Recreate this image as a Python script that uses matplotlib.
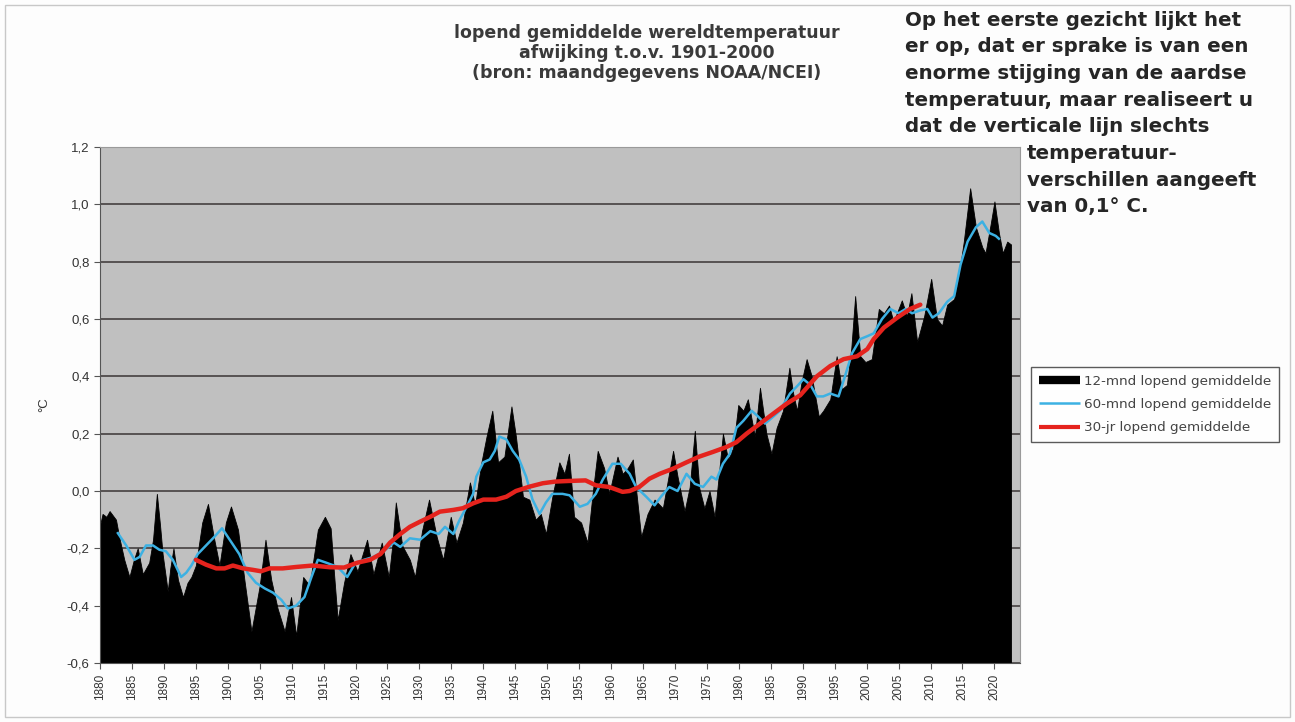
import matplotlib.pyplot as plt
from matplotlib.lines import Line2D
from matplotlib.patches import Rectangle

black_years = [1880.0, 1880.4, 1881.0, 1881.5, 1882.0, 1882.5, 1883.0, 1883.8, 1884.6, 1885.3,
               1885.9, 1886.7, 1887.2, 1887.7, 1888.3, 1888.9, 1889.4, 1889.8, 1890.6, 1891.0,
               1891.5, 1892.2, 1893.0, 1893.7, 1894.3, 1895.0, 1896.0, 1896.9, 1897.8, 1898.7,
               1899.7, 1900.5, 1901.6, 1902.6, 1903.7, 1905.0, 1905.9, 1906.8, 1907.8, 1908.9,
               1909.9, 1910.7, 1911.8, 1912.8, 1914.1, 1915.2, 1916.1, 1916.6, 1917.2, 1918.2,
               1919.2, 1920.3, 1921.8, 1922.8, 1924.1, 1925.2, 1925.8, 1926.3, 1927.3, 1928.5,
               1929.3, 1930.4, 1931.5, 1932.7, 1933.7, 1934.9, 1935.8, 1936.8, 1937.9, 1938.7,
               1939.7, 1940.5, 1941.4, 1942.3, 1943.3, 1944.4, 1945.1, 1946.2, 1947.2, 1948.2,
               1949.0, 1949.8, 1950.8, 1951.9, 1952.7, 1953.4, 1954.2, 1955.3, 1956.3, 1957.1,
               1957.9, 1958.9, 1959.7, 1961.0, 1961.8, 1962.6, 1963.4, 1964.7, 1965.7, 1966.8,
               1968.1, 1969.7, 1970.4, 1971.5, 1972.3, 1973.1, 1973.8, 1974.6, 1975.4, 1976.2,
               1977.5, 1978.3, 1979.1, 1979.9, 1980.7, 1981.4, 1982.5, 1983.3, 1984.3, 1985.1,
               1985.9, 1986.9, 1987.9, 1988.5, 1989.1, 1989.8, 1990.6, 1991.4, 1992.5, 1993.2,
               1994.3, 1995.3, 1996.1, 1996.9, 1997.6, 1998.2, 1999.0, 1999.8, 2000.8, 2001.9,
               2002.7, 2003.5, 2004.2, 2005.5, 2006.3, 2007.0, 2007.9, 2009.0, 2010.1, 2011.0,
               2011.8, 2012.6, 2013.7, 2014.4, 2015.2, 2016.2, 2017.1, 2018.1, 2018.6, 2019.4,
               2020.0, 2020.7, 2021.3, 2022.0, 2022.6]
black_vals = [-0.12, -0.08, -0.09, -0.07, -0.085, -0.10, -0.16, -0.24, -0.30, -0.24,
              -0.20, -0.29, -0.27, -0.25, -0.17, -0.01, -0.12, -0.22, -0.35, -0.27,
              -0.20, -0.31, -0.37, -0.32, -0.30, -0.26, -0.11, -0.045, -0.16, -0.26,
              -0.11, -0.054, -0.135, -0.31, -0.49, -0.33, -0.17, -0.31, -0.41, -0.49,
              -0.37, -0.505, -0.30, -0.33, -0.135, -0.09, -0.13, -0.28, -0.45, -0.32,
              -0.22, -0.28, -0.17, -0.29, -0.18, -0.30, -0.18, -0.04, -0.19, -0.24,
              -0.30, -0.14, -0.03, -0.16, -0.24, -0.09, -0.18, -0.11, 0.03, -0.05,
              0.10, 0.19, 0.28, 0.10, 0.12, 0.295, 0.19, -0.02, -0.03, -0.10,
              -0.08, -0.15, -0.02, 0.10, 0.06, 0.13, -0.09, -0.11, -0.18, -0.01,
              0.14, 0.08, -0.01, 0.12, 0.06, 0.08, 0.11, -0.16, -0.08, -0.03,
              -0.06, 0.14, 0.05, -0.07, 0.014, 0.21, 0.01, -0.06, 0.0, -0.09,
              0.20, 0.11, 0.15, 0.30, 0.28, 0.32, 0.19, 0.36, 0.20, 0.13,
              0.22, 0.28, 0.43, 0.34, 0.28, 0.38, 0.46, 0.40, 0.26, 0.28,
              0.32, 0.47, 0.355, 0.37, 0.50, 0.68, 0.47, 0.45, 0.46, 0.635,
              0.62, 0.647, 0.59, 0.665, 0.61, 0.69, 0.52, 0.61, 0.74, 0.60,
              0.577, 0.65, 0.67, 0.75, 0.87, 1.056, 0.92, 0.85, 0.83, 0.93,
              1.01, 0.90, 0.83, 0.87, 0.86]

# 60-maands lopend gemiddelde
blue_years = [1882.8, 1884.1, 1885.4, 1886.2, 1887.2, 1888.3, 1889.3, 1890.3, 1891.4, 1892.7,
              1893.5, 1894.3, 1895.3, 1896.6, 1897.9, 1899.1, 1900.3, 1901.8, 1903.1, 1904.4,
              1905.8, 1907.1, 1908.4, 1909.4, 1910.7, 1912.0, 1913.1, 1914.1, 1915.4, 1917.2,
              1918.7, 1920.0, 1921.3, 1922.8, 1924.4, 1926.0, 1927.0, 1928.5, 1930.1, 1931.7,
              1933.0, 1934.0, 1935.3, 1936.3, 1937.4, 1938.4, 1938.9, 1940.0, 1941.0, 1941.8,
              1942.5, 1943.6, 1944.6, 1945.6, 1946.7, 1947.7, 1948.8, 1949.8, 1950.8, 1952.4,
              1953.5, 1955.1, 1956.3, 1957.6, 1958.7, 1960.2, 1961.5, 1962.9, 1963.9, 1965.5,
              1966.8, 1967.8, 1969.1, 1970.4, 1971.8, 1973.1, 1974.4, 1975.7, 1976.5, 1977.5,
              1978.6, 1979.6, 1980.7, 1982.0, 1983.0, 1984.1, 1985.4, 1986.4, 1988.0, 1989.3,
              1990.1, 1991.2, 1992.2, 1993.2, 1994.3, 1995.6, 1996.6, 1997.7, 1999.0, 2000.1,
              2001.1, 2002.4, 2003.7, 2005.0, 2006.1, 2007.1, 2008.4, 2009.5, 2010.3, 2011.3,
              2012.6, 2013.7, 2014.7, 2015.8, 2017.1, 2018.1, 2019.2, 2020.2, 2020.7]
blue_vals = [-0.147, -0.19, -0.24, -0.23, -0.19, -0.19, -0.205, -0.21, -0.24, -0.30,
             -0.285, -0.26, -0.22, -0.19, -0.16, -0.13, -0.17, -0.22, -0.285, -0.32,
             -0.34, -0.355, -0.38, -0.41, -0.40, -0.37, -0.30, -0.24, -0.25, -0.265,
             -0.30, -0.25, -0.24, -0.23, -0.21, -0.18, -0.195, -0.165, -0.17, -0.14,
             -0.15, -0.125, -0.15, -0.10, -0.055, -0.01, 0.05, 0.10, 0.11, 0.14,
             0.19, 0.18, 0.14, 0.11, 0.05, -0.03, -0.08, -0.04, -0.01, -0.01,
             -0.015, -0.055, -0.045, -0.01, 0.04, 0.095, 0.095, 0.06, 0.014, -0.02,
             -0.05, -0.02, 0.014, 0.0, 0.06, 0.025, 0.014, 0.05, 0.04, 0.095,
             0.13, 0.22, 0.245, 0.28, 0.26, 0.235, 0.26, 0.28, 0.34, 0.37,
             0.39, 0.37, 0.33, 0.33, 0.34, 0.33, 0.40, 0.48, 0.53, 0.54,
             0.55, 0.60, 0.635, 0.62, 0.635, 0.62, 0.63, 0.635, 0.605, 0.62,
             0.66, 0.68, 0.79, 0.87, 0.92, 0.94, 0.90, 0.89, 0.88]

# 30-jaars lopend gemiddelde
red_years = [1895.0, 1896.6, 1898.2, 1899.5, 1900.8, 1902.4, 1903.9, 1905.2, 1906.5, 1908.6,
             1910.7, 1913.3, 1916.0, 1918.2, 1920.3, 1922.3, 1923.9, 1925.4, 1927.0, 1928.5,
             1930.1, 1931.7, 1933.2, 1935.3, 1936.8, 1938.4, 1940.0, 1942.0, 1943.6, 1945.1,
             1947.2, 1949.3, 1951.3, 1953.4, 1956.0, 1957.6, 1959.7, 1961.8, 1962.9, 1964.4,
             1966.0, 1967.6, 1969.7, 1971.8, 1973.8, 1975.9, 1978.0, 1979.6, 1981.2, 1983.3,
             1985.4, 1987.5, 1989.6, 1992.2, 1994.3, 1996.4, 1998.5, 2000.1, 2001.1, 2002.7,
             2004.8, 2006.8, 2008.4]
red_vals = [-0.24, -0.257, -0.27, -0.27, -0.26, -0.27, -0.275, -0.28, -0.27, -0.27,
            -0.265, -0.26, -0.266, -0.267, -0.25, -0.24, -0.22, -0.18, -0.15, -0.125,
            -0.107, -0.09, -0.072, -0.066, -0.06, -0.043, -0.03, -0.03, -0.02, 0.0,
            0.015, 0.027, 0.033, 0.035, 0.037, 0.02, 0.014, -0.003, 0.0, 0.014,
            0.043, 0.06, 0.078, 0.10, 0.12, 0.136, 0.153, 0.17, 0.20, 0.235,
            0.27, 0.305, 0.334, 0.40, 0.436, 0.46, 0.47, 0.495, 0.53, 0.57,
            0.605, 0.635, 0.65]

y_ticks = [-0.6, -0.4, -0.2, 0.0, 0.2, 0.4, 0.6, 0.8, 1.0, 1.2]
x_ticks = list(range(1880, 2021, 5))

title_lines = "lopend gemiddelde wereldtemperatuur\nafwijking t.o.v. 1901-2000\n(bron: maandgegevens NOAA/NCEI)"
note_lines = ["Op het eerste gezicht lijkt het",
              "er op, dat er sprake is van een",
              "enorme stijging van de aardse",
              "temperatuur, maar realiseert u",
              "dat de verticale lijn slechts"]
note_lines2 = ["temperatuur-", "verschillen aangeeft", "van 0,1\u00b0 C."]

plt.rcParams['font.family'] = ['Liberation Sans', 'DejaVu Sans']

fig = plt.figure(figsize=(12.95, 7.22), dpi=100)
fig.patch.set_facecolor('#fdfdfd')
fig.patches.append(Rectangle((0.004, 0.007), 0.992, 0.986, transform=fig.transFigure,
                             fill=False, edgecolor='#c8c8c8', linewidth=1))

ax = fig.add_axes([100 / 1295, 59 / 722, 920 / 1295, 516 / 722])
ax.set_facecolor('#c0c0c0')

ax.fill_between(black_years, -0.6, black_vals, color='black', linewidth=0.6, zorder=2)
ax.plot(blue_years, blue_vals, color='#3cb1e3', linewidth=1.8, zorder=3)
ax.plot(red_years, red_vals, color='#e5231d', linewidth=3.2, solid_capstyle='round', zorder=4)

ax.set_xlim(1880, 2024)
ax.set_ylim(-0.6, 1.2)
ax.set_yticks(y_ticks)
ax.set_yticklabels([('%.1f' % v).replace('.', ',') for v in y_ticks], fontsize=9.5, color='#333333')
ax.set_xticks(x_ticks)
ax.set_xticklabels([str(y) for y in x_ticks], rotation=90, fontsize=8.5, color='#333333')
ax.tick_params(axis='both', direction='out', length=4, color='#555555')
ax.yaxis.grid(True, color='#3a3535', linewidth=1.1, zorder=1)
ax.set_axisbelow(True)
for side in ['top', 'right']:
    ax.spines[side].set_color('#9a9a9a')
for side in ['left', 'bottom']:
    ax.spines[side].set_color('#555555')
ax.set_ylabel('\u00b0C', fontsize=9.5, color='#333333', labelpad=12)

fig.text(647 / 1295, 1 - 24 / 722, title_lines, ha='center', va='top', fontsize=12.5,
         fontweight='bold', family=['DejaVu Sans'], color='#3a3a3a', linespacing=1.13)

for i, line in enumerate(note_lines):
    fig.text(905 / 1295, 1 - (20 + i * 26.7) / 722, line, ha='left', va='center',
             fontsize=14.3, fontweight='heavy', family=['DejaVu Sans'], color='#262626')
for i, line in enumerate(note_lines2):
    fig.text(1027 / 1295, 1 - (153.5 + i * 26.7) / 722, line, ha='left', va='center',
             fontsize=14.3, fontweight='heavy', family=['DejaVu Sans'], color='#262626')

handles = [Line2D([], [], color='black', linewidth=6, solid_capstyle='butt'),
           Line2D([], [], color='#3cb1e3', linewidth=1.8, solid_capstyle='butt'),
           Line2D([], [], color='#e5231d', linewidth=3, solid_capstyle='butt')]
labels = ['12-mnd lopend gemiddelde', '60-mnd lopend gemiddelde', '30-jr lopend gemiddelde']
leg = fig.legend(handles, labels, loc='upper left', bbox_to_anchor=(1031 / 1295, 1 - 367 / 722),
                 prop={'family': 'DejaVu Sans', 'size': 9.7}, frameon=True, fancybox=False,
                 edgecolor='#333333', handlelength=3.0, handletextpad=0.3, borderpad=0.6,
                 labelspacing=0.75, borderaxespad=0)
leg.get_frame().set_linewidth(1.0)
for t in leg.get_texts():
    t.set_color('#444444')

fig.savefig('out.png', dpi=100, facecolor=fig.get_facecolor())
